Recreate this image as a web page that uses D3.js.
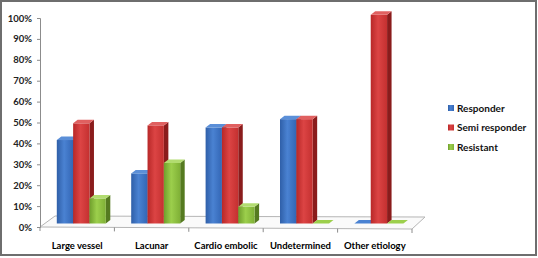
<!DOCTYPE html>
<html><head><meta charset="utf-8">
<script src="https://cdn.jsdelivr.net/npm/d3@7"></script>
<style>body{margin:0;background:#fff}svg{display:block}</style>
</head><body>
<svg id="c" width="538" height="258"></svg>
<script>
const categories = ["Large vessel","Lacunar","Cardio embolic","Undetermined","Other etiology"];
const seriesNames = ["Responder","Semi responder","Resistant"];
const responder = [0.40,0.24,0.46,0.50,0.00];
const semiResponder = [0.48,0.47,0.46,0.50,1.00];
const resistant = [0.12,0.29,0.08,0.00,0.00];
const tickValues = [0,0.1,0.2,0.3,0.4,0.5,0.6,0.7,0.8,0.9,1.0];

const seriesValues = [responder, semiResponder, resistant];
const colors = [
  {front:["#2f5fa8","#4a82d2","#3366b5"], side:"#23477f", top:"#5b8fd8"},
  {front:["#b82828","#dc4444","#c43030"], side:"#8a1c1c", top:"#e06060"},
  {front:["#6f9e2c","#9ccf4c","#7fb036"], side:"#557a20", top:"#b2dc70"}
];

const svg = d3.select("#c");
const defs = svg.append("defs");
colors.forEach((c,i)=>{
  const g = defs.append("linearGradient").attr("id","g"+i).attr("x1","0").attr("x2","1").attr("y1","0").attr("y2","0");
  g.append("stop").attr("offset","0").attr("stop-color",c.front[0]);
  g.append("stop").attr("offset","0.45").attr("stop-color",c.front[1]);
  g.append("stop").attr("offset","1").attr("stop-color",c.front[2]);
});

// frame
svg.append("rect").attr("x",1).attr("y",1).attr("width",535).attr("height",254)
  .attr("fill","#fff").attr("stroke","#6e6e6e").attr("stroke-width",2);

const y = d3.scaleLinear().domain([0,1]).range([227,18]);
const yBar = d3.scaleLinear().domain([0,1]).range([223.5,14.8]);
const x = d3.scaleBand().domain(categories).range([40,412]).paddingInner(0).paddingOuter(0);
const xs = d3.scaleBand().domain(seriesNames).range([16.8,16.8+49]).padding(0);
const dx = 4.5, dy = 3.5;

// floor
const floor = [[40,227],[412,229],[425,217],[55,216]];
svg.append("polygon").attr("points",floor.map(p=>p.join(",")).join(" "))
  .attr("fill","#fafafa").attr("stroke","#b5b5b5").attr("stroke-width",1);

// y axis
const yAxis = d3.axisLeft(y).tickValues(tickValues).tickFormat(d3.format(".0%")).tickSize(3).tickPadding(5);
const ga = svg.append("g").attr("transform","translate(40,0)").call(yAxis);
ga.select(".domain").attr("stroke","#8c8c8c");
ga.selectAll(".tick line").attr("stroke","#8c8c8c");
ga.selectAll("text").attr("font-family","Lato, 'Open Sans', sans-serif").attr("font-weight","bold")
  .attr("font-size","9.5px").attr("fill","#222");

// x axis (front edge of floor)
const xAxis = d3.axisBottom(x).tickSize(0).tickPadding(14);
const gx = svg.append("g").attr("transform","translate(0,228)").call(xAxis);
gx.select(".domain").remove();
gx.selectAll("text").attr("font-family","Lato, 'Open Sans', sans-serif").attr("font-weight","bold")
  .attr("font-size","9.5px").attr("fill","#000");
// category separators
const seps = categories.map(c=>x(c)).concat([x(categories[categories.length-1])+x.bandwidth()]);
svg.append("g").selectAll("line").data(seps).join("line")
  .attr("x1",d=>d).attr("x2",d=>d).attr("y1",d=>227+(d-40)/186).attr("y2",d=>231+(d-40)/186)
  .attr("stroke","#8c8c8c");

// bars
const bars = [];
categories.forEach((c,ci)=>{
  seriesNames.forEach((s,si)=>{
    bars.push({c, s, si, v: seriesValues[si][ci]});
  });
});
const w = xs.bandwidth();
const gb = svg.append("g");
bars.forEach(b=>{
  const x0 = x(b.c) + xs(b.s);
  const yt = yBar(b.v), yb = yBar(0);
  const col = colors[b.si];
  const g = gb.append("g");
  g.append("polygon").attr("points",[[x0+w,yt],[x0+w+dx,yt-dy],[x0+w+dx,yb-dy],[x0+w,yb]].map(p=>p.join(",")).join(" "))
    .attr("fill",col.side);
  if (b.v > 0) {
    g.append("rect").attr("x",x0).attr("y",yt).attr("width",w).attr("height",yb-yt).attr("fill","url(#g"+b.si+")");
  }
  g.append("polygon").attr("points",[[x0,yt],[x0+w,yt],[x0+w+dx,yt-dy],[x0+dx,yt-dy]].map(p=>p.join(",")).join(" "))
    .attr("fill",b.v>0?col.top:col.front[1]);
});

// legend
const lg = svg.append("g");
seriesNames.forEach((s,i)=>{
  const ly = 108 + i*19.5;
  lg.append("rect").attr("x",448).attr("y",ly-3).attr("width",6).attr("height",6).attr("fill","url(#g"+i+")");
  lg.append("text").attr("x",457).attr("y",ly).attr("dy","0.35em").text(s)
    .attr("font-family","Lato, 'Open Sans', sans-serif").attr("font-weight","bold").attr("font-size","10px").attr("fill","#111");
});
</script>
</body></html>
